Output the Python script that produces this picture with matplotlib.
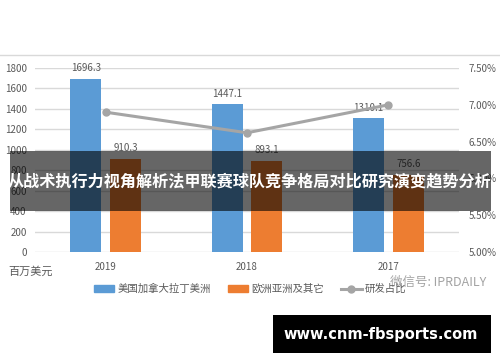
import matplotlib.pyplot as plt
import matplotlib.patches as mpatches
from matplotlib.lines import Line2D
import numpy as np

plt.rcParams['font.family'] = ['Noto Sans CJK SC', 'DejaVu Sans']

BLUE = "#5B9BD5"
ORANGE = "#ED7D31"
GRAY = "#A5A5A5"
TEXT = "#595959"

years = ["2019", "2018", "2017"]
americas = [1696.3, 1447.1, 1310.1]
europe_asia = [910.3, 893.1, 756.6]
rd_ratio = [6.90, 6.62, 7.00]  # percent

series_names = ["美国加拿大拉丁美洲", "欧洲亚洲及其它", "研发占比"]
banner_title = "从战术执行力视角解析法甲联赛球队竞争格局对比研究演变趋势分析"
site = "www.cnm-fbsports.com"

fig = plt.figure(figsize=(5, 3.62), dpi=100)
ax = fig.add_axes([0.07, 0.304, 0.848, 0.508])

x = np.arange(len(years))
w = 0.22
off = 0.141
b1 = ax.bar(x - off, americas, w, color=BLUE, zorder=2)
b2 = ax.bar(x + off, europe_asia, w, color=ORANGE, zorder=2)

for bars, vals in [(b1, americas), (b2, europe_asia)]:
    for r, v in zip(bars, vals):
        ax.annotate(f"{v:.1f}", (r.get_x() + r.get_width() / 2, v),
                    xytext=(0, 4), textcoords="offset points",
                    ha="center", va="bottom", fontsize=7, color=TEXT, zorder=5)

ax.set_xlim(-0.5, 2.5)
ax.set_ylim(0, 1800)
ax.set_yticks(range(0, 1801, 200))
ax.set_xticks(x)
ax.set_xticklabels(years)
ax.yaxis.grid(True, color="#D9D9D9", lw=1, zorder=0)
ax.set_axisbelow(True)
for s in ax.spines.values():
    s.set_visible(False)
ax.tick_params(axis="both", length=0, labelsize=7, colors=TEXT)
ax.tick_params(axis="x", pad=7)
ax.tick_params(axis="y", pad=6)

ax2 = ax.twinx()
ax2.plot(x, rd_ratio, color=GRAY, lw=2.2, marker="o", ms=5, zorder=4)
ax2.set_ylim(5.0, 7.5)
ax2.set_yticks(np.arange(5.0, 7.51, 0.5))
ax2.set_yticklabels([f"{v:.2f}%" for v in np.arange(5.0, 7.51, 0.5)])
for s in ax2.spines.values():
    s.set_visible(False)
ax2.tick_params(axis="y", length=0, labelsize=7, colors=TEXT, pad=7)

fig.text(0.016, 0.249, "百万美元", fontsize=8, color=TEXT, va="center")

# top border line
fig.add_artist(Line2D([0, 1], [1 - 55 / 362] * 2, color="#D9D9D9", lw=1))

# legend
handles = [mpatches.Rectangle((0, 0), 1, 1, color=BLUE),
           mpatches.Rectangle((0, 0), 1, 1, color=ORANGE),
           Line2D([0], [0], color=GRAY, lw=2.2, marker="o", ms=5)]
fig.legend(handles, series_names, loc="center", bbox_to_anchor=(0.5, 1 - 289 / 362),
           ncol=3, frameon=False, fontsize=7.5, labelcolor=TEXT,
           handlelength=2.0, handleheight=0.6, columnspacing=1.6, handletextpad=0.3)

# watermark
fig.text(0.78, 1 - 282 / 362, "微信号: IPRDAILY", fontsize=9, color="#8C8C8C",
         alpha=0.8, va="center")

# dark banner
fig.add_artist(mpatches.Rectangle((10 / 500, 1 - 211 / 362), 481 / 500, 60 / 362,
                                  transform=fig.transFigure, color="black", alpha=0.6,
                                  lw=0, zorder=10))
fig.text(0.5, 1 - 181 / 362, banner_title, fontsize=11.6, color="white",
         fontweight="bold", ha="center", va="center", zorder=11)

# site box
fig.add_artist(mpatches.Rectangle((273 / 500, 1 - 353 / 362), 218 / 500, 38 / 362,
                                  transform=fig.transFigure, color="black", lw=0, zorder=10))
fig.text(381 / 500, 1 - 334 / 362, site, fontsize=10.5, color="white",
         fontweight="bold", family="DejaVu Sans", ha="center", va="center", zorder=11)

fig.savefig("out.png", dpi=100)
